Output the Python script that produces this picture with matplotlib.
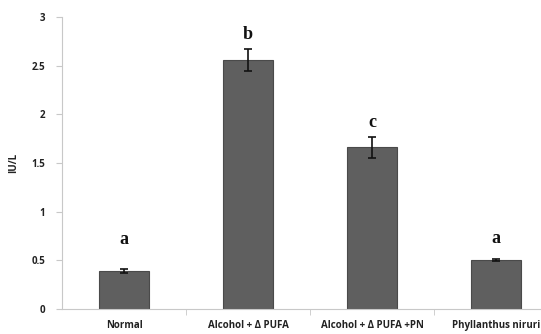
import matplotlib
matplotlib.use("Agg")
import matplotlib.pyplot as plt

groups = ["Normal", "Alcohol + \u0394 PUFA", "Alcohol + \u0394 PUFA +PN", "Phyllanthus niruri"]
means = [0.39, 2.56, 1.66, 0.50]
errors = [0.02, 0.11, 0.11, 0.01]
letters = ["a", "b", "c", "a"]
letter_y = [0.71, 2.82, 1.92, 0.72]

fig = plt.figure(figsize=(5.41, 3.34), dpi=100)
ax = fig.add_axes([0.1146, 0.075, 0.917, 0.874])

x = list(range(len(groups)))
ax.bar(x, means, width=0.4, color="#5f5f5f", edgecolor="#4a4a4a", linewidth=0.8,
       yerr=errors, error_kw=dict(ecolor="#111111", elinewidth=1.2, capsize=3, capthick=1.2))

for xi, lt, ly in zip(x, letters, letter_y):
    ax.text(xi, ly, lt, ha="center", va="center", fontsize=13, fontweight="bold",
            family="Liberation Serif", color="#111111")

ax.set_xlim(-0.5, 3.5)
ax.set_ylim(0, 3)
ax.set_yticks([0, 0.5, 1, 1.5, 2, 2.5, 3])
ax.set_yticklabels(["0", "0.5", "1", "1.5", "2", "2.5", "3"])
ax.set_xticks(x)
ax.set_xticklabels(groups)
ax.set_xticks([0.5, 1.5, 2.5], minor=True)
ax.tick_params(axis="x", which="major", length=0, pad=8, labelsize=7, colors="#222222")
ax.tick_params(axis="x", which="minor", length=4, color="#c8c8c8", direction="out")
ax.tick_params(axis="y", length=4, color="#c8c8c8", labelsize=7, colors="#222222", pad=8)
for lab in ax.get_xticklabels() + ax.get_yticklabels():
    lab.set_fontweight("bold")
    lab.set_family("Open Sans")

ax.set_ylabel("IU/L", fontsize=7, fontweight="bold", family="Open Sans", color="#222222", labelpad=9)

ax.spines["top"].set_visible(False)
ax.spines["right"].set_visible(False)
ax.spines["left"].set_color("#c8c8c8")
ax.spines["bottom"].set_color("#c8c8c8")

fig.savefig("out.png", dpi=100)
